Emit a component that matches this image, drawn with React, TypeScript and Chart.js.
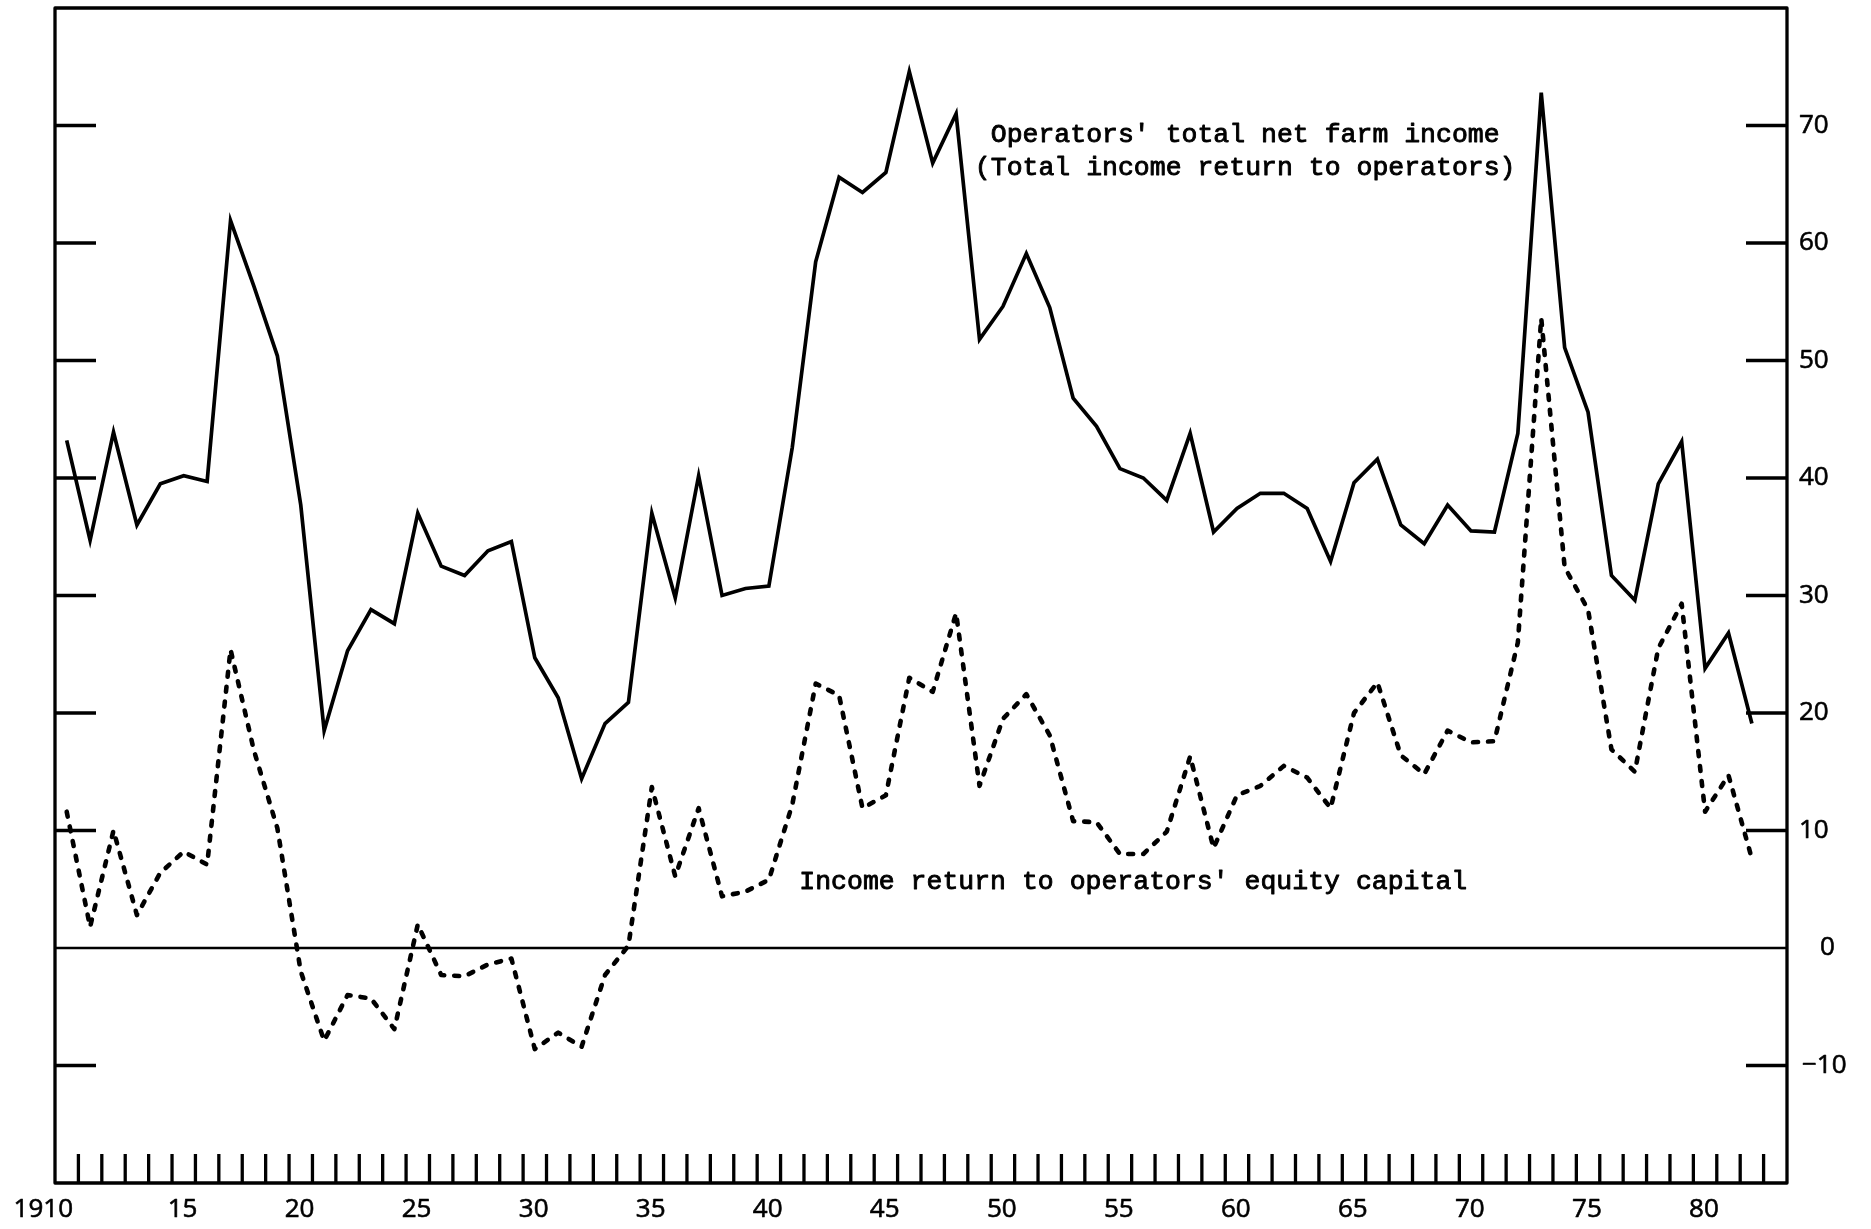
import React, { useEffect, useRef } from "react";
import { Chart, registerables } from "chart.js";

Chart.register(...registerables);

// ---- Data ----
const years = [
  1910, 1911, 1912, 1913, 1914, 1915, 1916, 1917, 1918, 1919,
  1920, 1921, 1922, 1923, 1924, 1925, 1926, 1927, 1928, 1929,
  1930, 1931, 1932, 1933, 1934, 1935, 1936, 1937, 1938, 1939,
  1940, 1941, 1942, 1943, 1944, 1945, 1946, 1947, 1948, 1949,
  1950, 1951, 1952, 1953, 1954, 1955, 1956, 1957, 1958, 1959,
  1960, 1961, 1962, 1963, 1964, 1965, 1966, 1967, 1968, 1969,
  1970, 1971, 1972, 1973, 1974, 1975, 1976, 1977, 1978, 1979,
  1980, 1981, 1982,
];

const totalIncome = [
  43.2, 34.7, 43.9, 36.0, 39.5, 40.2, 39.7, 61.9, 56.3, 50.4,
  37.7, 18.5, 25.3, 28.8, 27.6, 37.0, 32.5, 31.7, 33.8, 34.6,
  24.7, 21.3, 14.4, 19.1, 20.9, 37.0, 29.8, 40.2, 30.0, 30.6,
  30.8, 42.6, 58.4, 65.6, 64.3, 66.0, 74.6, 66.8, 71.0, 51.8,
  54.6, 59.1, 54.5, 46.8, 44.4, 40.8, 40.0, 38.1, 43.8, 35.4,
  37.4, 38.7, 38.7, 37.4, 32.9, 39.6, 41.6, 36.0, 34.4, 37.7,
  35.5, 35.4, 43.8, 72.8, 51.1, 45.6, 31.7, 29.6, 39.5, 43.1,
  23.8, 26.8, 19.1,
];

const equityReturn = [
  11.6, 1.8, 10.0, 2.8, 6.4, 8.2, 7.1, 25.4, 16.8, 10.2,
  -2.0, -7.9, -4.0, -4.3, -6.9, 2.0, -2.3, -2.4, -1.4, -0.9,
  -8.6, -7.2, -8.4, -2.3, 0.2, 13.7, 6.1, 11.9, 4.4, 4.8,
  5.8, 12.2, 22.5, 21.5, 11.9, 13.0, 23.0, 21.8, 28.5, 13.8,
  19.5, 21.6, 18.1, 10.8, 10.7, 8.0, 8.0, 9.9, 16.3, 8.5,
  13.0, 13.8, 15.5, 14.5, 11.9, 20.0, 22.6, 16.4, 14.8, 18.5,
  17.5, 17.6, 26.0, 53.6, 32.4, 28.8, 16.9, 15.0, 25.5, 29.3,
  11.6, 14.7, 7.6,
];

const yTickValues = [70, 60, 50, 40, 30, 20, 10, 0, -10];
const yTickTexts = ["70", "60", "50", "40", "30", "20", "10", "0", "\u221210"];
const xLabelYears = [1910, 1915, 1920, 1925, 1930, 1935, 1940, 1945, 1950, 1955, 1960, 1965, 1970, 1975, 1980];
const xLabelTexts = ["1910", "15", "20", "25", "30", "35", "40", "45", "50", "55", "60", "65", "70", "75", "80"];

const totalLabelLines = ["Operators' total net farm income", "(Total income return to operators)"];
const equityLabel = "Income return to operators' equity capital";

const W = 1871;
const H = 1229;

const framePlugin = {
  id: "paperFrame",
  afterDatasetsDraw(chart: any) {
    const { ctx, chartArea: a, scales } = chart;
    const xs = scales.x;
    const ys = scales.y;
    const seg = (x1: number, y1: number, x2: number, y2: number) => {
      ctx.beginPath();
      ctx.moveTo(x1, y1);
      ctx.lineTo(x2, y2);
      ctx.stroke();
    };
    const heavyText = (t: string, x: number, y: number, w: number) => {
      ctx.lineWidth = w;
      ctx.strokeText(t, x, y);
      ctx.fillText(t, x, y);
    };
    ctx.save();
    ctx.strokeStyle = "#000";
    ctx.fillStyle = "#000";
    ctx.lineCap = "butt";
    ctx.lineJoin = "round";

    // frame
    ctx.lineWidth = 3.3;
    ctx.strokeRect(a.left, a.top, a.right - a.left, a.bottom - a.top);

    // zero line
    const y0 = ys.getPixelForValue(0);
    ctx.lineWidth = 2.5;
    seg(a.left, y0, a.right, y0);

    // y ticks (inward, both sides)
    ctx.lineWidth = 3.3;
    for (const v of yTickValues) {
      if (v === 0) continue;
      const y = ys.getPixelForValue(v);
      seg(a.left, y, a.left + 41, y);
      seg(a.right - 41, y, a.right, y);
    }

    // x ticks (every year, inward from bottom)
    for (let yr = xs.min + 1; yr < xs.max; yr++) {
      const x = xs.getPixelForValue(yr);
      seg(x, a.bottom, x, a.bottom - 29);
    }

    // y labels on the right
    ctx.font = "500 26px 'Open Sans'";
    ctx.textBaseline = "middle";
    ctx.textAlign = "left";
    yTickValues.forEach((v, i) => {
      const y = ys.getPixelForValue(v);
      const dx = v === 0 ? 33 : v < 0 ? 15 : 12;
      heavyText(yTickTexts[i], a.right + dx, y, 0.6);
    });

    // x labels
    ctx.textAlign = "center";
    xLabelYears.forEach((yr, i) => {
      const pos = i === 0 ? yr - 0.5 : yr + 0.45;
      heavyText(xLabelTexts[i], xs.getPixelForValue(pos), a.bottom + 27, 0.6);
    });

    // annotations
    ctx.font = "26.5px 'Liberation Mono'";
    ctx.textAlign = "center";
    heavyText(totalLabelLines[0], xs.getPixelForValue(1960.85), ys.getPixelForValue(69.2), 0.9);
    heavyText(totalLabelLines[1], xs.getPixelForValue(1960.85), ys.getPixelForValue(66.4), 0.9);
    ctx.textAlign = "left";
    heavyText(equityLabel, xs.getPixelForValue(1941.8), ys.getPixelForValue(5.65), 0.9);

    ctx.restore();
  },
};

export default function App() {
  const canvasRef = useRef<HTMLCanvasElement | null>(null);

  useEffect(() => {
    const canvas = canvasRef.current;
    if (!canvas) return;
    const totalPts = years.map((yr, i) => ({ x: yr + 0.5, y: totalIncome[i] }));
    const equityPts = years.map((yr, i) => ({ x: yr + 0.5, y: equityReturn[i] }));

    const chart = new Chart(canvas, {
      type: "line",
      data: {
        datasets: [
          {
            label: totalLabelLines.join(" "),
            data: totalPts,
            borderColor: "#000",
            borderWidth: 3.7,
            borderJoinStyle: "miter",
            pointRadius: 0,
            tension: 0,
            fill: false,
          },
          {
            label: equityLabel,
            data: equityPts,
            borderColor: "#000",
            borderWidth: 4.6,
            borderDash: [5, 10],
            borderCapStyle: "round",
            borderJoinStyle: "round",
            pointRadius: 0,
            tension: 0,
            fill: false,
          },
        ],
      },
      options: {
        animation: false,
        responsive: false,
        maintainAspectRatio: false,
        devicePixelRatio: 1,
        layout: { padding: { left: 55, right: W - 1787, top: 8, bottom: H - 1183 } },
        plugins: { legend: { display: false }, tooltip: { enabled: false } },
        events: [],
        scales: {
          x: { type: "linear", min: 1910, max: 1984, display: false },
          y: { type: "linear", min: -20, max: 80, display: false },
        },
      },
      plugins: [framePlugin],
    } as any);

    return () => chart.destroy();
  }, []);

  return (
    <div style={{ position: "absolute", left: 0, top: 0, width: W, height: H, background: "#fff" }}>
      <canvas ref={canvasRef} width={W} height={H} style={{ display: "block", width: W, height: H }} />
    </div>
  );
}
